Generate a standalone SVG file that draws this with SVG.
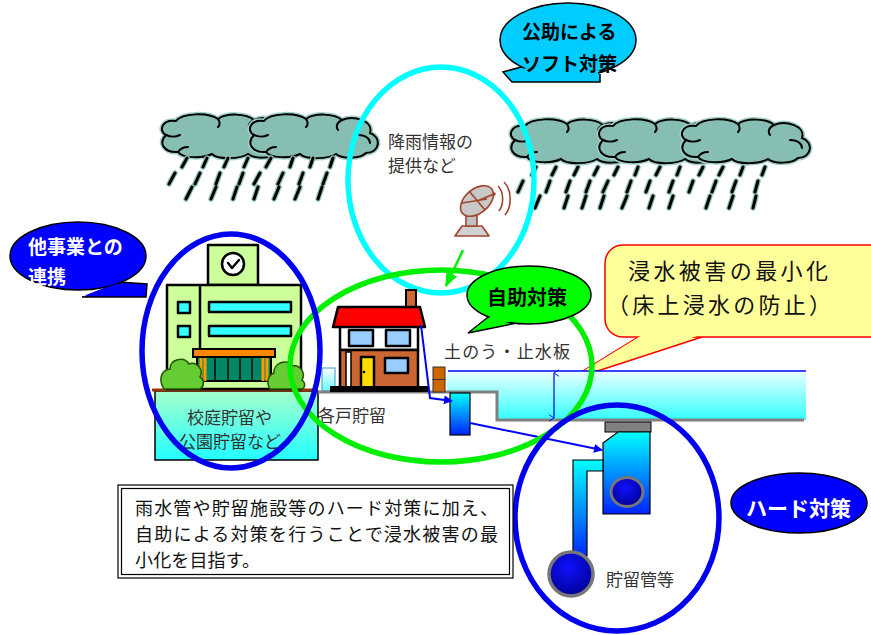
<svg xmlns="http://www.w3.org/2000/svg" width="871" height="635" viewBox="0 0 871 635">
<defs>
  <style>
    .jp { font-family: "Noto Sans CJK JP", "Liberation Sans", sans-serif; }
    .bold { font-weight: bold; }
    .lbl { fill: #333; font-size: 17px; }
    .ink { stroke: #000; stroke-width: 2.5; stroke-linejoin: round; }
    .cloudHalo { fill: none; stroke: #A3D0C8; stroke-width: 5; }
    .cloud { fill: #86BEB4; stroke: #000; stroke-width: 2; }
    .cloudIn { fill: none; stroke: #000; stroke-width: 2; stroke-linecap: round; }
    .rainHalo { fill: none; stroke: #8FC3BB; stroke-width: 5.5; stroke-linecap: round; }
    .rain { fill: none; stroke: #000; stroke-width: 3; stroke-linecap: round; }
    .ring { fill: none; stroke-width: 5.5; }
    .dish { stroke: #A0442C; stroke-width: 1.6; stroke-linejoin: round; }
    .arrowBlue { fill: none; stroke: #0000FF; stroke-width: 2; }
    .bush { fill: #66CC33; stroke: #225500; stroke-width: 1.5; }
  </style>
  <linearGradient id="gWater" x1="0" y1="0" x2="0" y2="1">
    <stop offset="0" stop-color="#EAFFFF"/>
    <stop offset="1" stop-color="#33FFFF"/>
  </linearGradient>
  <linearGradient id="gBox" x1="0" y1="0" x2="0" y2="1">
    <stop offset="0" stop-color="#FFFFFF"/>
    <stop offset="1" stop-color="#66FFFF"/>
  </linearGradient>
  <linearGradient id="gSchool" x1="0" y1="0" x2="0" y2="1">
    <stop offset="0" stop-color="#A6FFCC"/>
    <stop offset="1" stop-color="#22FFFF"/>
  </linearGradient>
  <linearGradient id="gPipe" x1="0" y1="0" x2="0" y2="1">
    <stop offset="0" stop-color="#00FFFF"/>
    <stop offset="1" stop-color="#0022FF"/>
  </linearGradient>
  <linearGradient id="gPipeLong" gradientUnits="userSpaceOnUse" x1="0" y1="460" x2="0" y2="560">
    <stop offset="0" stop-color="#00FFFF"/>
    <stop offset="1" stop-color="#0022FF"/>
  </linearGradient>
  <radialGradient id="gHole" cx="0.45" cy="0.35" r="0.7">
    <stop offset="0" stop-color="#1010FF"/>
    <stop offset="1" stop-color="#000090"/>
  </radialGradient>
  <marker id="ah" viewBox="0 0 10 10" refX="9" refY="5" markerWidth="9" markerHeight="9" markerUnits="userSpaceOnUse" orient="auto">
    <path d="M0,0 L10,5 L0,10 Z" fill="#0000FF"/>
  </marker>
  <marker id="ahGreen" viewBox="0 0 10 10" refX="9" refY="5" markerWidth="6" markerHeight="6" orient="auto">
    <path d="M0,1 L10,5 L0,9 Z" fill="#00EE00"/>
  </marker>
  <marker id="tick" viewBox="0 0 10 10" refX="5" refY="1" markerWidth="8" markerHeight="8" markerUnits="userSpaceOnUse" orient="auto-start-reverse">
    <path d="M1,7 L5,1 L9,7" fill="none" stroke="#0000FF" stroke-width="1.2"/>
  </marker>
  <!-- one puff of cloud, 133 x 45 -->
  <g id="cloudUnit">
    <path class="cloudHalo" d="M8,22 C0,18 4,6 18,8 C24,0 50,-1 60,6 C68,0 88,0 96,7 C108,2 128,8 124,20 C136,24 134,40 120,40 C114,46 96,46 90,41 C82,46 60,47 54,41 C44,46 24,45 20,39 C6,40 0,30 8,22 Z"/>
    <path class="cloud" d="M8,22 C0,18 4,6 18,8 C24,0 50,-1 60,6 C68,0 88,0 96,7 C108,2 128,8 124,20 C136,24 134,40 120,40 C114,46 96,46 90,41 C82,46 60,47 54,41 C44,46 24,45 20,39 C6,40 0,30 8,22 Z"/>
    <path class="cloudIn" d="M8,22 C12,24 18,24 22,22 M60,6 C62,9 62,12 60,14 M96,7 C90,10 90,14 92,17 M112,22 C120,22 124,26 124,30 M20,39 C22,36 26,34 30,34"/>
  </g>
</defs>

<rect width="871" height="635" fill="#FFFFFF"/>

<!-- rain clouds -->
<g id="cloud-left">
  <use href="#cloudUnit" x="158" y="113"/>
  <use href="#cloudUnit" x="246" y="113"/>
  <path class="rainHalo" d="M187,158 l-5,9 M207,158 l-4,9 M228,158 l-4,9 M248,158 l-4,9 M271,158 l-5,9 M293,158 l-3,9 M313,158 l-3,9 M333,158 l-3,9
    M175,173 l-6,11 M200,173 l-5,11 M220,173 l-4,11 M243,173 l-4,11 M260,173 l-6,11 M283,173 l-5,11 M303,173 l-4,11 M327,173 l-4,11
    M192,187 l-6,12 M216,187 l-5,12 M237,187 l-4,12 M258,187 l-4,12 M279,187 l-5,12 M300,187 l-5,12 M322,187 l-4,12"/>
  <path class="rain" d="M187,158 l-5,9 M207,158 l-4,9 M228,158 l-4,9 M248,158 l-4,9 M271,158 l-5,9 M293,158 l-3,9 M313,158 l-3,9 M333,158 l-3,9
    M175,173 l-6,11 M200,173 l-5,11 M220,173 l-4,11 M243,173 l-4,11 M260,173 l-6,11 M283,173 l-5,11 M303,173 l-4,11 M327,173 l-4,11
    M192,187 l-6,12 M216,187 l-5,12 M237,187 l-4,12 M258,187 l-4,12 M279,187 l-5,12 M300,187 l-5,12 M322,187 l-4,12"/>
</g>
<g id="cloud-right">
  <use href="#cloudUnit" x="507" y="118"/>
  <use href="#cloudUnit" x="595" y="118"/>
  <use href="#cloudUnit" x="678" y="118"/>
  <path class="rainHalo" d="M536,167 l-4,8 M556,167 l-4,8 M578,167 l-4,8 M598,167 l-4,8 M618,167 l-4,8 M638,167 l-3,8 M660,167 l-4,8 M680,167 l-3,8 M703,167 l-4,8 M723,167 l-4,8 M743,167 l-3,8 M765,167 l-3,8
    M523,181 l-5,11 M550,181 l-4,11 M570,181 l-4,11 M590,181 l-4,11 M608,181 l-5,11 M631,181 l-4,11 M650,181 l-4,11 M673,181 l-4,11 M693,181 l-4,11 M716,181 l-4,11 M736,181 l-4,11 M758,181 l-3,11
    M540,196 l-5,12 M568,196 l-4,12 M586,196 l-4,12 M604,196 l-4,12 M627,196 l-5,12 M653,196 l-4,12 M673,196 l-4,12 M710,196 l-4,12 M733,196 l-4,12 M756,196 l-3,12"/>
  <path class="rain" d="M536,167 l-4,8 M556,167 l-4,8 M578,167 l-4,8 M598,167 l-4,8 M618,167 l-4,8 M638,167 l-3,8 M660,167 l-4,8 M680,167 l-3,8 M703,167 l-4,8 M723,167 l-4,8 M743,167 l-3,8 M765,167 l-3,8
    M523,181 l-5,11 M550,181 l-4,11 M570,181 l-4,11 M590,181 l-4,11 M608,181 l-5,11 M631,181 l-4,11 M650,181 l-4,11 M673,181 l-4,11 M693,181 l-4,11 M716,181 l-4,11 M736,181 l-4,11 M758,181 l-3,11
    M540,196 l-5,12 M568,196 l-4,12 M586,196 l-4,12 M604,196 l-4,12 M627,196 l-5,12 M653,196 l-4,12 M673,196 l-4,12 M710,196 l-4,12 M733,196 l-4,12 M756,196 l-3,12"/>
</g>

<!-- soft measures: rainfall information -->
<g id="soft-ring">
  <ellipse cx="441" cy="180" rx="93" ry="113" class="ring" stroke="#00FFFF"/>
  <text class="jp lbl" x="388" y="148">降雨情報の</text>
  <text class="jp lbl" x="388" y="172">提供など</text>
</g>
<g id="antenna">
  <path class="dish" fill="#D0D0D0" d="M455,236 L489,236 L482,226 L462,226 Z"/>
  <rect class="dish" fill="#C0C0C0" x="466" y="212" width="11" height="14"/>
  <ellipse class="dish" fill="#C8C8C8" cx="477" cy="201" rx="19" ry="12" transform="rotate(-40 477 201)"/>
  <path class="dish" fill="none" d="M477,201 L494,194 M469,191 L485,210 M462,203 L487,199"/>
  <circle cx="494" cy="194" r="1.8" fill="#A0442C"/>
  <path class="dish" fill="none" d="M498,186 C504,192 504,204 499,211 M504,182 C512,190 512,207 505,215"/>
</g>

<!-- school building -->
<g id="school">
  <rect x="155" y="391" width="163" height="69" fill="url(#gSchool)" stroke="#000" stroke-width="1.5"/>
  <line x1="152" y1="390" x2="318" y2="390" stroke="#993300" stroke-width="3"/>
  <rect class="ink" x="208" y="245" width="50" height="40" fill="#CCFF99"/>
  <circle class="ink" cx="233" cy="264" r="11" fill="#FFFFFF"/>
  <polyline points="228,263 232,268 239,260" fill="none" stroke="#000" stroke-width="2.5" stroke-linecap="round" stroke-linejoin="round"/>
  <rect class="ink" x="167" y="285" width="134" height="104" fill="#CCFF99"/>
  <line x1="200" y1="285" x2="200" y2="350" stroke="#000" stroke-width="2.5"/>
  <rect class="ink" x="178" y="302" width="12" height="11" fill="#33FFFF"/>
  <rect class="ink" x="178" y="326" width="12" height="11" fill="#33FFFF"/>
  <rect class="ink" x="209" y="302" width="82" height="10" fill="#33FFFF"/>
  <rect class="ink" x="209" y="326" width="82" height="10" fill="#33FFFF"/>
  <rect x="197" y="357" width="74" height="24" fill="#008866" stroke="#000" stroke-width="2"/>
  <path d="M201,357 V381 M205,357 V381 M263,357 V381 M267,357 V381" stroke="#FF9900" stroke-width="3"/>
  <path d="M215,357 V381 M228,357 V381 M240,357 V381 M252,357 V381" stroke="#000" stroke-width="1.5"/>
  <rect x="193" y="349" width="82" height="8" fill="#FF8800" stroke="#000" stroke-width="2"/>
  <path class="bush" d="M164,389 C158,380 161,370 170,369 C170,359 184,356 189,364 C197,361 204,370 200,377 C205,380 204,387 200,389 Z"/>
  <path class="bush" d="M270,389 C266,383 268,375 274,373 C273,363 287,358 292,366 C300,364 306,373 302,380 C306,383 305,388 302,389 Z"/>
  <text class="jp lbl" x="187" y="424" fill="#333">校庭貯留や</text>
  <text class="jp lbl" x="179" y="448" fill="#333">公園貯留など</text>
</g>

<!-- flood-prevention callout -->
<g id="callout-min">
  <path d="M640,336 L567,381 L705,336" fill="#FFFF99" stroke="#FF0000" stroke-width="1.5" stroke-linejoin="miter"/>
  <rect x="605" y="245" width="290" height="92" rx="18" fill="#FFFF99" stroke="#FF0000" stroke-width="1.5"/>
  <path d="M642,335 L572,378 L700,335 Z" fill="#FFFF99"/>
  <text class="jp" x="628" y="279" font-size="22" fill="#111" textLength="200" lengthAdjust="spacing">浸水被害の最小化</text>
  <text class="jp" x="607" y="313" font-size="22" fill="#111" textLength="224" lengthAdjust="spacing">（床上浸水の防止）</text>
</g>

<!-- ground, water and pipes -->
<g id="ground">
  <rect x="322" y="368" width="13" height="23" fill="url(#gBox)" stroke="#3399CC" stroke-width="1"/>
  <path d="M447,371 L806,371 L806,420 L497,420 L497,392 L447,392 Z" fill="url(#gWater)"/>
  <line x1="448" y1="371" x2="806" y2="371" stroke="#0000FF" stroke-width="1.5"/>
  <path d="M318,392 L497,392 L497,420 L804,420" fill="none" stroke="#808080" stroke-width="3"/>
  <rect x="450" y="393" width="20" height="42" fill="url(#gPipe)" stroke="#000" stroke-width="1.2"/>
  <rect x="433" y="367" width="12" height="12.5" fill="#CC6600" stroke="#333" stroke-width="1"/>
  <rect x="433" y="379.5" width="12" height="12.5" fill="#CC6600" stroke="#333" stroke-width="1"/>
  <line x1="554" y1="373" x2="554" y2="418" stroke="#0000FF" stroke-width="1.2" marker-start="url(#tick)" marker-end="url(#tick)"/>
</g>

<g id="house">
  <rect x="406" y="290" width="10" height="20" fill="#CC6633" stroke="#000" stroke-width="2"/>
  <rect class="ink" x="340" y="326" width="78" height="24" fill="#FFFFFF"/>
  <rect class="ink" x="349" y="330" width="24" height="16" fill="#99CCFF"/>
  <rect class="ink" x="386" y="330" width="24" height="16" fill="#99CCFF"/>
  <rect class="ink" x="340" y="350" width="78" height="38" fill="#CC6633"/>
  <rect x="346" y="352" width="5" height="35" fill="#FFFFFF" stroke="#000" stroke-width="1.5"/>
  <rect class="ink" x="361" y="357" width="13" height="31" fill="#FFDD00"/>
  <circle cx="364" cy="372" r="1.3" fill="#000"/>
  <rect class="ink" x="385" y="358" width="23" height="15" fill="#99CCFF"/>
  <polygon class="ink" points="333,327 338,307 420,307 425,327" fill="#FF0000"/>
  <rect x="330" y="386" width="98" height="6" fill="#000"/>
  <text class="jp lbl" x="444" y="358" textLength="126" lengthAdjust="spacing" font-size="16">土のう・止水板</text>
  <text class="jp lbl" x="318" y="422" font-size="18">各戸貯留</text>
</g>

<g id="storage-pipe">
  <rect x="605" y="422" width="46" height="10" fill="#808080" stroke="#000" stroke-width="1"/>
  <path d="M603,443 L618,432 L650,432 L650,514 L603,514 Z" fill="url(#gPipe)" stroke="#000" stroke-width="1.2"/>
  <path d="M573,556 L573,460 L603,460 L603,471 L587,471 L587,556 Z" fill="url(#gPipeLong)" stroke="#000" stroke-width="1.2"/>
  <ellipse cx="627" cy="492" rx="16" ry="14.5" fill="url(#gHole)" stroke="#777" stroke-width="3"/>
  <circle cx="571" cy="574" r="22" fill="url(#gHole)" stroke="#777" stroke-width="3.5"/>
  <text class="jp lbl" x="606" y="586" font-size="18">貯留管等</text>
</g>

<!-- flow connectors -->
<g id="connectors">
  <polyline class="arrowBlue" points="421,325 430,398 452,401" marker-end="url(#ah)"/>
  <line class="arrowBlue" x1="470" y1="423" x2="602" y2="450" marker-end="url(#ah)"/>
  <line x1="463" y1="250" x2="446" y2="286" stroke="#00EE00" stroke-width="2.5" marker-end="url(#ahGreen)"/>
</g>

<!-- self-help ring and its callout -->
<g id="self-ring">
  <ellipse cx="441" cy="366" rx="151" ry="96" class="ring" stroke="#00EE00" stroke-width="6"/>
</g>
<g id="callout-self">
  <path d="M492,314 L468,333 L522,322" fill="#00FF00" stroke="#000" stroke-width="1.5"/>
  <ellipse cx="529" cy="295" rx="62" ry="29" fill="#00FF00" stroke="#000" stroke-width="1.5"/>
  <path d="M494,314 L473,330 L518,320 Z" fill="#00FF00"/>
  <text class="jp bold" x="487" y="305" font-size="20" fill="#000">自助対策</text>
</g>

<!-- cooperation ring and callout -->
<g id="coop-ring">
  <ellipse cx="231" cy="351" rx="89" ry="117" class="ring" stroke="#0000EE"/>
</g>
<g id="callout-coop">
  <path d="M118,282 L147,284 L146,297 L82,297" fill="#0000FF" stroke="#000" stroke-width="1.5"/>
  <ellipse cx="78" cy="256" rx="68" ry="34" fill="#0000FF" stroke="#000" stroke-width="1.5"/>
  <path d="M116,284 L145,285 L144,295 L86,295 Z" fill="#0000FF"/>
  <text class="jp bold" x="28" y="254" font-size="19" fill="#FFFFFF">他事業との</text>
  <text class="jp bold" x="28" y="284" font-size="19" fill="#FFFFFF">連携</text>
</g>

<!-- hard measures ring and callout -->
<g id="hard-ring">
  <ellipse cx="617" cy="518" rx="102" ry="113" class="ring" stroke="#0000EE" stroke-width="6"/>
</g>
<g id="callout-hard">
  <ellipse cx="799" cy="503" rx="68" ry="30" fill="#0000FF" stroke="#000" stroke-width="1.5"/>
  <text class="jp bold" x="746" y="516" font-size="21" fill="#FFFFFF">ハード対策</text>
</g>

<!-- public-help callout -->
<g id="callout-public">
  <path d="M525,66 L503,72 L512,82 L600,82 L600,74" fill="#00CCFF" stroke="#000" stroke-width="1.5"/>
  <ellipse cx="568" cy="40" rx="68" ry="37" fill="#00CCFF" stroke="#000" stroke-width="1.5"/>
  <path d="M527,68 L506,73 L513,80 L598,80 L598,72 Z" fill="#00CCFF"/>
  <text class="jp bold" x="522" y="39" font-size="19" fill="#000">公助による</text>
  <text class="jp bold" x="522" y="71" font-size="19" fill="#000">ソフト対策</text>
</g>

<!-- summary note -->
<g id="note">
  <rect x="118" y="485" width="395" height="93" fill="#FFFFFF" stroke="#000" stroke-width="1.2"/>
  <rect x="121.5" y="488.5" width="388" height="86" fill="none" stroke="#000" stroke-width="1.2"/>
  <text class="jp" x="135" y="515" font-size="18" fill="#111" textLength="363" lengthAdjust="spacing">雨水管や貯留施設等のハード対策に加え、</text>
  <text class="jp" x="135" y="541" font-size="18" fill="#111" textLength="363" lengthAdjust="spacing">自助による対策を行うことで浸水被害の最</text>
  <text class="jp" x="135" y="567" font-size="18" fill="#111" textLength="125" lengthAdjust="spacing">小化を目指す。</text>
</g>
</svg>
